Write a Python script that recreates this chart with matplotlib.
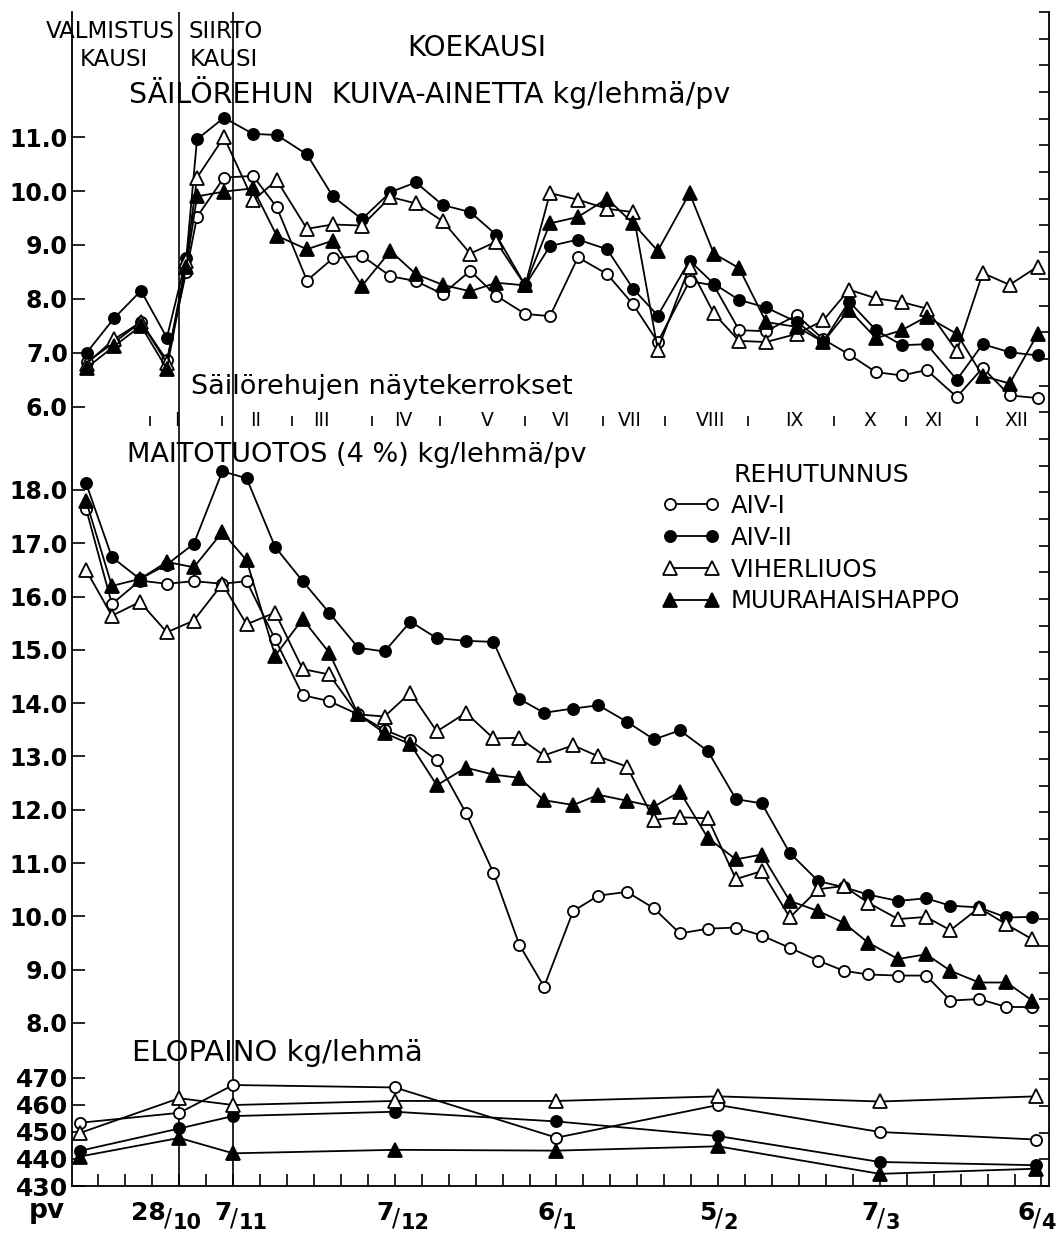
import numpy as np
import matplotlib
matplotlib.use('Agg')
import matplotlib.pyplot as plt
from matplotlib.ticker import MultipleLocator, FixedLocator

plt.rcParams['font.family'] = ['DejaVu Sans']

# päivät laskettu 28.10. alkaen
# säilörehun kuiva-aine kg/lehmä/pv
dm_days = [-17.2, -12.1, -7.1, -2.3, 1.3, 3.3, 8.3, 13.7, 18.1, 23.7, 28.5, 33.9,
           39.2, 43.9, 48.9, 54.0, 58.8, 64.2, 68.8, 74.0, 79.4, 84.2, 88.8, 94.7,
           99.2, 103.9, 108.9, 114.6, 119.5, 124.3, 129.3, 134.1, 138.7, 144.3,
           149.1, 154.1, 159.3]
dm_aiv1 = [6.82, 7.19, 7.57, 6.86, 8.5, 9.52, 10.25, 10.28, 9.7, 8.34, 8.75, 8.8,
           8.42, 8.33, 8.09, 8.52, 8.06, 7.72, 7.68, 8.77, 8.46, 7.9, 7.2, 8.33,
           8.25, 7.42, 7.4, 7.7, 7.25, 6.97, 6.64, 6.58, 6.68, 6.18, 6.72, 6.21, 6.16]
dm_aiv2 = [7.0, 7.64, 8.15, 7.28, 8.75, 10.96, 11.36, 11.06, 11.04, 10.68, 9.9, 9.48,
           9.98, 10.16, 9.74, 9.61, 9.19, 8.25, 8.98, 9.1, 8.92, 8.19, 7.69, 8.71,
           8.28, 7.98, 7.84, 7.57, 7.2, 7.95, 7.42, 7.14, 7.16, 6.5, 7.16, 7.01, 6.95]
dm_vih = [6.8, 7.25, 7.57, 6.81, 8.7, 10.25, 11.0, 9.83, 10.2, 9.3, 9.38, 9.36,
          9.89, 9.77, 9.44, 8.84, 9.06, 8.25, 9.96, 9.84, 9.67, 9.61, 7.06, 8.6,
          7.73, 7.22, 7.2, 7.35, 7.6, 8.17, 8.01, 7.94, 7.82, 7.03, 8.48, 8.26, 8.6]
dm_muur = [6.72, 7.12, 7.5, 6.7, 8.6, 9.9, 9.99, 10.05, 9.17, 8.92, 9.08, 8.24,
           8.89, 8.46, 8.26, 8.14, 8.3, 8.25, 9.4, 9.52, 9.86, 9.4, 8.89, 9.96,
           8.84, 8.57, 7.57, 7.48, 7.2, 7.8, 7.27, 7.42, 7.67, 7.35, 6.57, 6.43, 7.35]

# maitotuotos (4 %) kg/lehmä/pv
my_days = [-17.3, -12.5, -7.3, -2.3, 2.7, 8.0, 12.5, 17.8, 22.9, 27.8, 33.2, 38.1,
           42.9, 47.8, 53.2, 58.3, 63.1, 67.7, 73.1, 77.8, 83.1, 88.1, 92.9, 98.1,
           103.3, 108.1, 113.3, 118.6, 123.3, 127.8, 133.4, 138.6, 143.1, 148.4,
           153.5, 158.3]
my_aiv1 = [17.65, 15.86, 16.3, 16.24, 16.29, 16.24, 16.29, 15.2, 14.15, 14.04, 13.79, 13.5,
           13.3, 12.93, 11.94, 10.82, 9.47, 8.68, 10.1, 10.39, 10.46, 10.15, 9.68, 9.77,
           9.79, 9.64, 9.41, 9.17, 8.98, 8.91, 8.89, 8.89, 8.42, 8.45, 8.3, 8.3]
my_aiv2 = [18.13, 16.74, 16.33, 16.6, 16.99, 18.35, 18.22, 16.93, 16.29, 15.7, 15.04, 14.97,
           15.53, 15.22, 15.17, 15.15, 14.08, 13.82, 13.9, 13.96, 13.65, 13.32, 13.49, 13.1,
           12.2, 12.12, 11.19, 10.66, 10.55, 10.41, 10.29, 10.34, 10.2, 10.17, 9.98, 9.99]
my_vih = [16.5, 15.64, 15.9, 15.33, 15.55, 16.24, 15.48, 15.7, 14.64, 14.54, 13.79, 13.75,
          14.2, 13.47, 13.82, 13.34, 13.35, 13.02, 13.21, 13.0, 12.81, 11.81, 11.86, 11.84,
          10.7, 10.85, 9.98, 10.51, 10.57, 10.26, 9.95, 9.99, 9.74, 10.16, 9.85, 9.57]
my_muur = [17.8, 16.2, 16.33, 16.65, 16.55, 17.21, 16.68, 14.89, 15.58, 14.95, 13.79, 13.44,
           13.23, 12.46, 12.79, 12.66, 12.6, 12.18, 12.09, 12.28, 12.17, 12.06, 12.34, 11.47,
           11.07, 11.16, 10.29, 10.1, 9.88, 9.51, 9.2, 9.29, 8.98, 8.76, 8.76, 8.42]

# elopaino kg/lehmä
bw_days = [-18.5, 0, 10, 40, 70, 100, 130, 159]
bw_aiv1 = [453.4, 457.1, 467.4, 466.5, 447.9, 460.0, 450.0, 447.2]
bw_aiv2 = [443.0, 451.3, 455.9, 457.5, 453.9, 448.5, 438.9, 437.7]
bw_vih = [449.6, 462.5, 460.0, 461.5, 461.5, 463.2, 461.3, 463.2]
bw_muur = [440.9, 447.8, 442.1, 443.4, 443.1, 444.7, 434.5, 436.4]

# jaksojen rajat (valmistus / siirto / koekausi)
period_bounds = [0, 10]

# päivämäärät x-akselilla
date_labels = ['28/10', '7/11', '7/12', '6/1', '5/2', '7/3', '6/4']
date_days = [0, 10, 40, 70, 100, 130, 160]

# säilörehujen näytekerrokset I-XII
layer_names = ['I', 'II', 'III', 'IV', 'V', 'VI', 'VII', 'VIII', 'IX', 'X', 'XI', 'XII']
layer_days = [-0.5, 14.2, 26.4, 41.6, 57.1, 70.8, 83.6, 98.6, 114.1, 128.1, 140.0, 155.4]
layer_bounds = [-5.4, 8.0, 20.9, 35.7, 48.4, 64.2, 78.6, 90.1, 105.5, 121.5, 134.8, 148.0]

names = ['AIV-I', 'AIV-II', 'VIHERLIUOS', 'MUURAHAISHAPPO']
styles = {
    'AIV-I': dict(marker='o', mfc='white', ms=8),
    'AIV-II': dict(marker='o', mfc='black', ms=8),
    'VIHERLIUOS': dict(marker='^', mfc='white', ms=9.5),
    'MUURAHAISHAPPO': dict(marker='^', mfc='black', ms=9.5),
}

W, H = 1060, 1237
fig = plt.figure(figsize=(W / 100, H / 100), dpi=100)


def box(left, top, right, bottom):
    return [left / W, 1 - bottom / H, (right - left) / W, (bottom - top) / H]


X0, X1 = 72, 1049
XLIM = (-19.9, 161.4)

# kehys: vasen ja oikea pystyviiva, aika-akseli alhaalla
frame = fig.add_axes(box(X0, 12, X1, 1186))
frame.set_xlim(XLIM)
frame.set_ylim(0, 44)
frame.patch.set_visible(False)
frame.spines['top'].set_visible(False)
for s in ['left', 'right', 'bottom']:
    frame.spines[s].set_linewidth(1.3)
frame.yaxis.tick_right()
frame.yaxis.set_major_locator(MultipleLocator(1))
frame.tick_params(axis='y', direction='in', length=7, width=1.2, labelright=False)
frame.xaxis.set_major_locator(FixedLocator(np.arange(-15, 161, 5)))
frame.tick_params(axis='x', direction='in', length=9, width=1.2, labelbottom=False)
for d in period_bounds:
    frame.axvline(d, color='black', lw=1.2)

# päivämäärät murtoluvun tapaan: päivä ylhäällä, kuukausi alempana
nudges = {'28/10': -9, '6/4': -4}
for d, lab in zip(date_days, date_labels):
    num, den = lab.split('/')
    nudge = nudges.get(lab, 0)
    where = dict(xy=(d, 0), xycoords=('data', 'axes fraction'), textcoords='offset points')
    frame.annotate(num, xytext=(nudge - 1, -11), ha='right', va='top',
                   fontsize=18, fontweight='bold', **where)
    frame.annotate('/', xytext=(nudge - 2, -15), ha='left', va='top',
                   fontsize=17, **where)
    frame.annotate(den, xytext=(nudge + 4, -31), ha='left', va='baseline',
                   fontsize=15, fontweight='bold', **where)


def panel(top_px, bottom_px, ylim, ticks, fmt, size):
    ax = fig.add_axes(box(X0, top_px, X1, bottom_px))
    ax.set_xlim(XLIM)
    ax.set_ylim(ylim)
    ax.patch.set_visible(False)
    for s in ax.spines.values():
        s.set_visible(False)
    ax.set_xticks([])
    ax.set_yticks(ticks, [fmt.format(t) for t in ticks], fontweight='bold', fontsize=size)
    ax.tick_params(axis='y', direction='in', length=9, width=1.2, pad=3)
    return ax


ax_dm = panel(94, 406.7, (6.0, 11.8), [6, 7, 8, 9, 10, 11], '{:.1f}', 17)
ax_my = panel(458, 1023, (8.0, 18.6), list(range(8, 19)), '{:.1f}', 17)
ax_bw = panel(1072.6, 1186, (430, 472), [430, 440, 450, 460, 470], '{:d}', 18)

for ax, x, series in [
    (ax_dm, dm_days, [dm_aiv1, dm_aiv2, dm_vih, dm_muur]),
    (ax_my, my_days, [my_aiv1, my_aiv2, my_vih, my_muur]),
    (ax_bw, bw_days, [bw_aiv1, bw_aiv2, bw_vih, bw_muur]),
]:
    for name, y in zip(names, series):
        ax.plot(x, y, color='black', lw=1.3, mec='black', mew=1.3,
                clip_on=False, label=name, **styles[name])

# näytekerrokset kuiva-ainekuvan alle
for d, lab in zip(layer_days, layer_names):
    ax_dm.text(d, 5.74, lab, ha='center', va='center', fontsize=13.5, clip_on=False)
ax_dm.plot(layer_bounds, [5.74] * len(layer_bounds), ls='none', marker='|',
           ms=7, mew=1.2, color='black', clip_on=False)

# selite
ax_my.legend(loc='upper left', bbox_to_anchor=(663 / W, 1 - 494 / H),
             bbox_transform=fig.transFigure, frameon=False, numpoints=2,
             fontsize=17.5, borderpad=0, borderaxespad=0, handlelength=2.33,
             handletextpad=0.44, labelspacing=0.32)
fig.text(733 / W, 1 - 482 / H, 'REHUTUNNUS', fontsize=18, va='baseline')

# otsikot
fig.text(46 / W, 1 - 38 / H, 'VALMISTUS', fontsize=16.5, va='baseline')
fig.text(80 / W, 1 - 65.5 / H, 'KAUSI', fontsize=16.5, va='baseline')
fig.text(189 / W, 1 - 38 / H, 'SIIRTO', fontsize=16.5, va='baseline')
fig.text(190 / W, 1 - 65.5 / H, 'KAUSI', fontsize=16.5, va='baseline')
fig.text(407 / W, 1 - 56 / H, 'KOEKAUSI', fontsize=20, va='baseline')
fig.text(129 / W, 1 - 103 / H, 'SÄILÖREHUN  KUIVA-AINETTA kg/lehmä/pv',
         fontsize=20.5, va='baseline')
fig.text(191 / W, 1 - 394 / H, 'Säilörehujen näytekerrokset', fontsize=19.5, va='baseline')
fig.text(127 / W, 1 - 462 / H, 'MAITOTUOTOS (4 %) kg/lehmä/pv', fontsize=19.5, va='baseline')
fig.text(132 / W, 1 - 1061 / H, 'ELOPAINO kg/lehmä', fontsize=21, va='baseline')
fig.text(29 / W, 1 - 1218 / H, 'pv', fontsize=19, fontweight='bold', va='baseline')

fig.savefig('out.png', dpi=100)
